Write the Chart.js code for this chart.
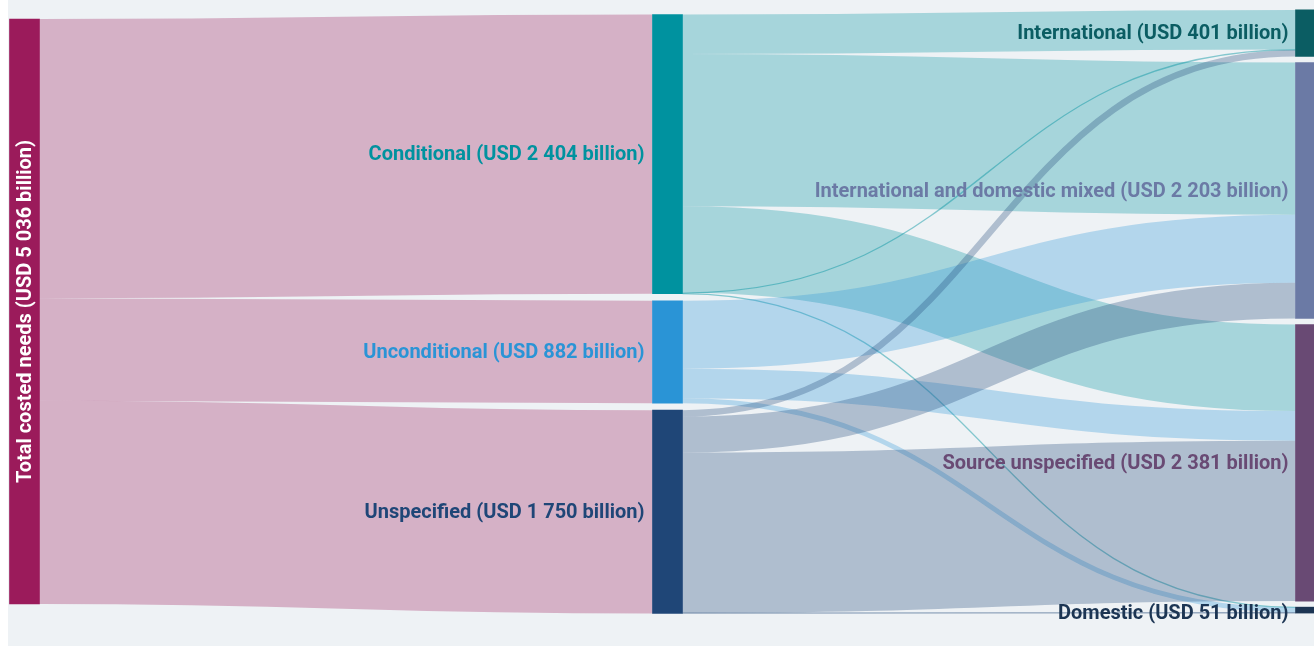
<!DOCTYPE html>
<html>
<head>
<meta charset="utf-8">
<script src="https://cdn.jsdelivr.net/npm/chart.js@4/dist/chart.umd.min.js"></script>
<style>
  body { margin: 0; background: #fff; }
  #wrap { width: 1314px; height: 646px; background: linear-gradient(to right, #fff 8px, #eef2f5 8px); }
</style>
</head>
<body>
<div id="wrap"><canvas id="chart" width="1314" height="646"></canvas></div>
<script>
// Nodes
const nodeNames = ["Total costed needs", "Conditional", "Unconditional", "Unspecified",
  "International", "International and domestic mixed", "Source unspecified", "Domestic"];
const nodeValues = [5036, 2404, 882, 1750, 401, 2203, 2381, 51];
const nodeLabels = ["Total costed needs (USD 5 036 billion)", "Conditional (USD 2 404 billion)",
  "Unconditional (USD 882 billion)", "Unspecified (USD 1 750 billion)",
  "International (USD 401 billion)", "International and domestic mixed (USD 2 203 billion)",
  "Source unspecified (USD 2 381 billion)", "Domestic (USD 51 billion)"];
const nodeColumns = [0, 1, 1, 1, 2, 2, 2, 2];

// Links (source index -> target index, USD billion)
const linkSources = [0, 0, 0, 1, 1, 1, 1, 1, 2, 2, 2, 3, 3, 3, 3];
const linkTargets = [1, 2, 3, 4, 5, 6, 4, 7, 5, 6, 7, 4, 5, 6, 7];
const linkValues = [2404, 882, 1750, 340, 1310, 745, 5, 4, 585, 255, 42, 56, 308, 1381, 5];

// styles
const nodeColors = ["#9b1b5b", "#00929f", "#2a94d6", "#1f4677", "#0b5d63", "#6b7aa5", "#694a74", "#1c3553"];
const columnPad = [0, 60, 52];
const pxPerUnit = 585 / 5036;
const colCenterPx = [311.5, 314, 311.5];
const nodeWidth = 30;

// simple sankey layout in value units
const nodeY0 = [], nodeY1 = [];
[0, 1, 2].forEach(c => {
  const ids = nodeNames.map((n, i) => i).filter(i => nodeColumns[i] === c);
  const span = ids.reduce((s, i) => s + nodeValues[i], 0) + columnPad[c] * (ids.length - 1);
  let y = colCenterPx[c] / pxPerUnit - span / 2;
  ids.forEach(i => { nodeY0[i] = y; nodeY1[i] = y + nodeValues[i]; y += nodeValues[i] + columnPad[c]; });
});
const outOff = nodeY0.slice(), inOff = nodeY0.slice();
const links = linkValues.map((v, i) => {
  const s = linkSources[i], t = linkTargets[i];
  const l = { s, t, v, ys: outOff[s] + v / 2, yt: inOff[t] + v / 2 };
  outOff[s] += v; inOff[t] += v;
  return l;
});

function alpha(hex, a) {
  const n = parseInt(hex.slice(1), 16);
  return "rgba(" + (n >> 16) + "," + ((n >> 8) & 255) + "," + (n & 255) + "," + a + ")";
}

const FONT = '"Roboto", sans-serif';

const sankeyPlugin = {
  id: "sankey",
  beforeDatasetsDraw(chart) {
    const ctx = chart.ctx, xs = chart.scales.x, ys = chart.scales.y;
    ctx.save();
    links.forEach(l => {
      const x0 = xs.getPixelForValue(nodeColumns[l.s]) + nodeWidth / 2;
      const x1 = xs.getPixelForValue(nodeColumns[l.t]) - nodeWidth / 2;
      const y0 = ys.getPixelForValue(l.ys), y1 = ys.getPixelForValue(l.yt);
      const xm = (x0 + x1) / 2;
      const w = Math.abs(ys.getPixelForValue(l.v) - ys.getPixelForValue(0));
      ctx.beginPath();
      ctx.moveTo(x0, y0);
      ctx.bezierCurveTo(xm, y0, xm, y1, x1, y1);
      ctx.lineWidth = Math.max(1.3, w);
      ctx.strokeStyle = alpha(nodeColors[l.s], w < 2 ? 0.45 : 0.3);
      ctx.lineCap = "butt";
      ctx.stroke();
    });
    ctx.restore();
  },
  afterDatasetsDraw(chart) {
    const ctx = chart.ctx, xs = chart.scales.x, ys = chart.scales.y;
    ctx.save();
    ctx.font = "bold 20px " + FONT;
    ctx.textBaseline = "middle";
    nodeNames.forEach((n, i) => {
      const xc = xs.getPixelForValue(nodeColumns[i]);
      const ym = ys.getPixelForValue((nodeY0[i] + nodeY1[i]) / 2);
      if (nodeColumns[i] === 0) {
        ctx.save();
        ctx.translate(xc, ym);
        ctx.rotate(-Math.PI / 2);
        ctx.textAlign = "center";
        ctx.fillStyle = "#fff";
        ctx.fillText(nodeLabels[i], 0, 1);
        ctx.restore();
      } else {
        ctx.textAlign = "right";
        ctx.fillStyle = nodeColors[i];
        const gap = nodeColumns[i] === 1 ? 8 : 7;
        ctx.fillText(nodeLabels[i], xc - nodeWidth / 2 - gap, (i === 7 ? ym + 4 : ym + 1));
      }
    });
    ctx.restore();
  }
};

new Chart(document.getElementById("chart"), {
  type: "bar",
  data: {
    datasets: [{
      data: nodeNames.map((n, i) => ({ x: nodeColumns[i], y: [nodeY0[i], nodeY1[i]] })),
      backgroundColor: nodeColors,
      borderWidth: 0,
      barThickness: nodeWidth,
      grouped: false
    }]
  },
  options: {
    responsive: false,
    animation: false,
    layout: { padding: 0 },
    plugins: { legend: { display: false }, tooltip: { enabled: false } },
    scales: {
      x: { type: "linear", display: false, offset: false, min: -24.5 / 643, max: (1314 - 24.5) / 643 },
      y: { type: "linear", display: false, reverse: true, min: 0, max: 646 / pxPerUnit }
    }
  },
  plugins: [sankeyPlugin]
});
</script>
</body>
</html>
